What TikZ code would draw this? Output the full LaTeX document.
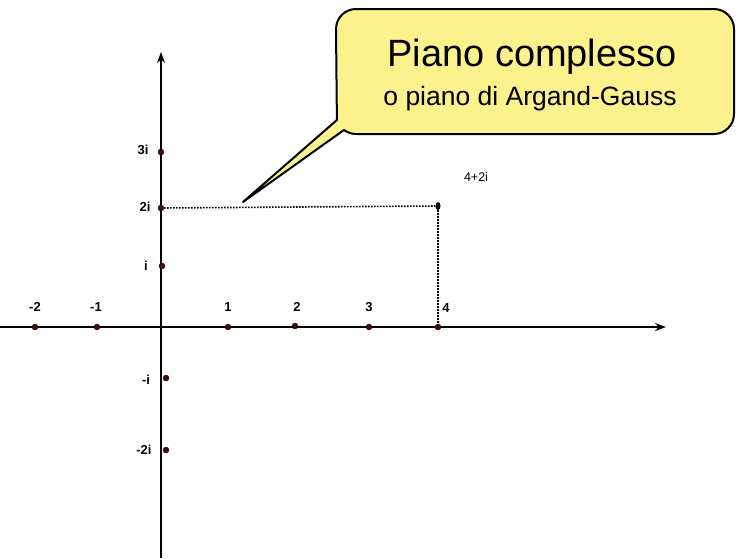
\documentclass[tikz,border=0pt]{standalone}
\usepackage{fontspec}
\setmainfont{Liberation Sans}
\usetikzlibrary{arrows.meta,shapes.geometric}
\definecolor{dotred}{HTML}{4A0A0A}
\definecolor{calloutfill}{HTML}{FBF28E}
\tikzset{
  axis/.style={line width=2.8pt,-{Stealth[length=11pt,width=8pt]}},
  gridline/.style={line width=1.6pt,dash pattern=on 1.6pt off 1.4pt},
  tickdot/.style={circle,fill=dotred,draw=black,line width=0.3pt,inner sep=0pt,minimum size=6pt},
  ticklabel/.style={font=\bfseries\fontsize{13}{15}\selectfont,inner sep=0pt},
  plainlabel/.style={font=\fontsize{12.5}{14}\selectfont,inner sep=0pt},
  calloutbox/.style={line width=2pt,fill=calloutfill,line join=round},
}
\begin{document}
\begin{tikzpicture}[x=1pt,y=-1pt]
\useasboundingbox (0,0) rectangle (744,558);
% axes
\coordinate (xs) at (0,327);
\coordinate (xe) at (666,327);
\coordinate (ys) at (161,558);
\coordinate (ye) at (161,52);
\draw[axis] (xs) -- (xe);
\draw[axis] (ys) -- (ye);
% point 4+2i and dotted projections
\node[ellipse,fill=black,inner sep=0pt,minimum width=5pt,minimum height=8pt] (z) at (438,206) {};
\coordinate (ax2i) at (161,208);
\coordinate (ax4) at (438,327);
\draw[gridline] (ax2i) -- (z.west);
\draw[gridline] (z.south) -- (ax4);
% real axis dots
\node[tickdot] (rm2) at (35,327) {};
\node[tickdot] (rm1) at (97,327) {};
\node[tickdot] (r1) at (228,327) {};
\node[tickdot] (r2) at (295,326) {};
\node[tickdot] (r3) at (369,327) {};
\node[tickdot] (r4) at (438,327) {};
% imaginary axis dots
\node[tickdot] (i3) at (161,152) {};
\node[tickdot] (i2) at (161,208) {};
\node[tickdot] (i1) at (162,266) {};
\node[tickdot] (im1) at (166,378) {};
\node[tickdot] (im2) at (166,450) {};
% labels
\node[ticklabel] (lm2) at (35,307) {-2};
\node[ticklabel] (lm1) at (96,307) {-1};
\node[ticklabel] (l1) at (228,307) {1};
\node[ticklabel] (l2) at (297,307) {2};
\node[ticklabel] (l3) at (369,307) {3};
\node[ticklabel] (l4) at (446,308) {4};
\node[ticklabel] (li3) at (143,150) {3i};
\node[ticklabel] (li2) at (145,207) {2i};
\node[ticklabel] (li1) at (146,266) {i};
\node[ticklabel] (lim1) at (146,380) {-i};
\node[ticklabel] (lim2) at (144,450) {-2i};
\node[plainlabel] (lz) at (476,177) {4+2i};
% callout
\coordinate (tip) at (243,202);
\draw[calloutbox]
  (tip) -- (336.9,120) -- (336,29) arc[start angle=180,end angle=270,radius=20]
  -- (714,9) arc[start angle=270,end angle=360,radius=20]
  -- (734,114) arc[start angle=0,end angle=90,radius=20]
  -- (356,134) arc[start angle=90,end angle=127,radius=20] -- cycle;
\node[inner sep=0pt,font=\fontsize{38}{41}\selectfont] (title) at (532,57) {Piano complesso};
\node[inner sep=0pt,font=\fontsize{26.5}{29}\selectfont] (sub) at (530,99) {o piano di Argand-Gauss};
\end{tikzpicture}
\end{document}
